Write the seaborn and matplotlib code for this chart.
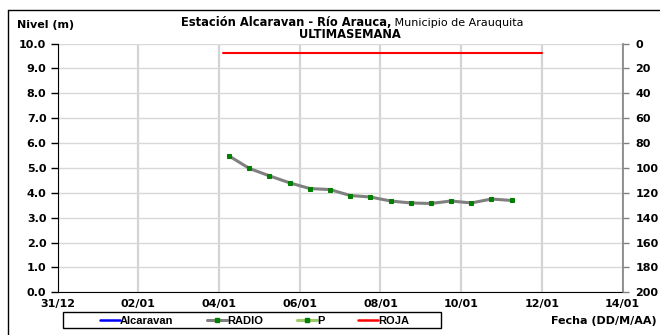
import pandas as pd
import matplotlib
matplotlib.use('Agg')
import matplotlib.pyplot as plt
import matplotlib.dates as mdates
from matplotlib.lines import Line2D
from matplotlib.patches import Rectangle
import seaborn as sns

# data
fechas_radio = ['2021-01-04 06:00', '2021-01-04 18:00', '2021-01-05 06:00', '2021-01-05 18:00',
                '2021-01-06 06:00', '2021-01-06 18:00', '2021-01-07 06:00', '2021-01-07 18:00',
                '2021-01-08 06:00', '2021-01-08 18:00', '2021-01-09 06:00', '2021-01-09 18:00',
                '2021-01-10 06:00', '2021-01-10 18:00', '2021-01-11 06:00']
nivel_radio = [5.48, 4.98, 4.68, 4.40, 4.17, 4.13, 3.89, 3.83, 3.67, 3.59, 3.57, 3.67, 3.59, 3.75, 3.69]
fechas_roja = ['2021-01-04 02:24', '2021-01-12 00:00']
nivel_roja = [9.6, 9.6]
fecha_ini = '2020-12-31'
fecha_fin = '2021-01-14'
ticks_izq = [0, 1, 2, 3, 4, 5, 6, 7, 8, 9, 10]
ticks_der = [0, 20, 40, 60, 80, 100, 120, 140, 160, 180, 200]
series = ['Alcaravan', 'RADIO', 'P', 'ROJA']

df_radio = pd.DataFrame({'fecha': pd.to_datetime(fechas_radio), 'nivel': nivel_radio})
df_roja = pd.DataFrame({'fecha': pd.to_datetime(fechas_roja), 'nivel': nivel_roja})

sns.set_style('white')
plt.rcParams['font.family'] = ['DejaVu Sans']
plt.rcParams['font.size'] = 8
plt.rcParams['font.weight'] = 'bold'
plt.rcParams['text.color'] = 'black'
plt.rcParams['xtick.color'] = 'black'
plt.rcParams['ytick.color'] = 'black'

W, H = 660, 335
fig = plt.figure(figsize=(6.6, 3.35), dpi=100)
ax = fig.add_axes([57.5 / W, 1 - 292.3 / H, (622.7 - 57.5) / W, (292.3 - 43.5) / H])

# grid
ax.grid(True, axis='x', color='#d4d4d4', lw=1.6)
ax.grid(True, axis='y', color='#d8d8d8', lw=1.0)
ax.set_axisbelow(True)

sns.lineplot(data=df_roja, x='fecha', y='nivel', color='#ff0000', lw=1.5, ax=ax)
sns.lineplot(data=df_radio, x='fecha', y='nivel', color='#808080', lw=2.2, marker='s',
             markersize=2.2, markerfacecolor='#008000', markeredgecolor='#008000', ax=ax)

ax.set_xlim(pd.Timestamp(fecha_ini), pd.Timestamp(fecha_fin))
ax.set_xticks(pd.date_range(fecha_ini, fecha_fin, freq='2D'))
ax.xaxis.set_major_formatter(mdates.DateFormatter('%d/%m'))
ax.set_ylim(0, 10)
ax.set_yticks(ticks_izq)
ax.set_yticklabels([f'{t:.1f}' for t in ticks_izq])
ax.set_xlabel('')
ax.set_ylabel('')
ax.tick_params(axis='y', direction='out', length=5, width=1, color='black', labelcolor='black',
               labelsize=8, pad=3)
ax.tick_params(axis='x', direction='out', length=3, width=1, color='black', labelcolor='black',
               labelsize=8, pad=2)
for lab in ax.get_xticklabels() + ax.get_yticklabels():
    lab.set_fontweight('bold')
ax.spines['top'].set_visible(False)
ax.spines['right'].set_visible(False)
ax.spines['left'].set_color('black')
ax.spines['bottom'].set_color('black')

ax2 = ax.twinx()
ax2.set_ylim(200, 0)
ax2.set_yticks(ticks_der)
ax2.set_yticklabels([str(t) for t in ticks_der], fontweight='bold')
ax2.tick_params(axis='y', direction='out', length=4, width=1, color='#808080', labelcolor='black',
                labelsize=8, pad=5)
for s in ['top', 'left', 'bottom']:
    ax2.spines[s].set_visible(False)
ax2.spines['right'].set_color('#808080')
ax2.spines['right'].set_linewidth(1.2)

# texts
fig.text(17 / W, 1 - 25 / H, 'Nivel (m)', ha='left', va='center', fontsize=8, fontweight='bold')
fig.text(391 / W, 1 - 22.5 / H, 'Estación Alcaravan - Río Arauca,', ha='right', va='center',
         fontsize=8.3, fontweight='bold')
fig.text(391 / W, 1 - 22.5 / H, ' Municipio de Arauquita', ha='left', va='center',
         fontsize=8, fontweight='normal')
fig.text(350 / W, 1 - 34.5 / H, 'ULTIMASEMANA', ha='center', va='center', fontsize=8.3, fontweight='bold')
fig.text(657 / W, 1 - 321 / H, 'Fecha (DD/M/AA)', ha='right', va='center', fontsize=8, fontweight='bold')

# legend
handles = [
    Line2D([], [], color='#0000ff', lw=1.8),
    Line2D([], [], color='#808080', lw=2.2, marker='s', markersize=2.2,
           markerfacecolor='#008000', markeredgecolor='#008000'),
    Line2D([], [], color='#99cc66', lw=2.2, marker='s', markersize=2.2,
           markerfacecolor='#008000', markeredgecolor='#008000'),
    Line2D([], [], color='#ff0000', lw=1.8),
]
fig.add_artist(Rectangle((63 / W, 1 - 328.3 / H), (441 - 63) / W, 16 / H, transform=fig.transFigure,
                         fill=False, edgecolor='black', lw=1))
fig.legend(handles, series, loc='center left', bbox_to_anchor=(94 / W, 1 - 320.5 / H), ncol=4,
           frameon=False, handlelength=1.8, handletextpad=0.05, columnspacing=3.0, borderpad=0,
           labelcolor='black', prop={'family': 'Liberation Sans', 'size': 8, 'weight': 'bold'})

# outer frame
fig.add_artist(Line2D([8 / W, 8 / W], [0, 1 - 9.5 / H], transform=fig.transFigure, color='black', lw=1))
fig.add_artist(Line2D([8 / W, 1], [1 - 9.5 / H, 1 - 9.5 / H], transform=fig.transFigure, color='black', lw=1))

fig.savefig('out.png', dpi=100)
